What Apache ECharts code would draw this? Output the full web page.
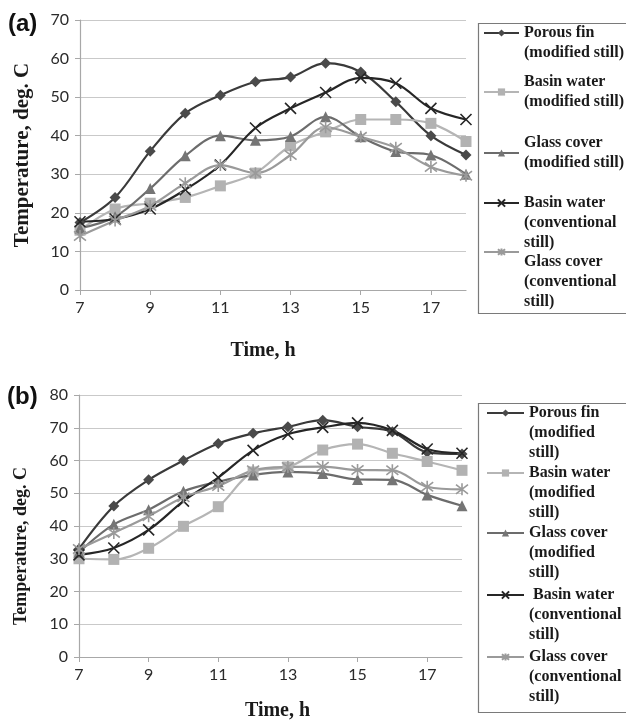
<!DOCTYPE html>
<html>
<head>
<meta charset="utf-8">
<script src="https://cdn.jsdelivr.net/npm/echarts@6/dist/echarts.min.js"></script>
<style>
  html, body { margin: 0; padding: 0; background: #fff; }
  #chart { width: 626px; height: 722px; }
</style>
</head>
<body>
<div id="chart"></div>
<script>
// time of day, h
var hours = [7, 8, 9, 10, 11, 12, 13, 14, 15, 16, 17, 18];

// (a)
var finA       = [17.5, 24, 36, 45.8, 50.5, 54, 55.2, 58.8, 56.5, 48.8, 40, 35];
var basinModA  = [15.5, 21, 22.5, 24, 27, 30.3, 37.4, 41, 44.2, 44.2, 43.2, 38.5];
var glassModA  = [16, 19, 26.3, 34.8, 40, 38.8, 39.8, 44.9, 39.7, 35.9, 35, 30];
var basinConvA = [17.7, 18.4, 21, 26, 32.4, 42, 47.1, 51.2, 55, 53.6, 47.1, 44.2];
var glassConvA = [14, 18, 21.8, 27.7, 32.4, 30.3, 35, 42.2, 39.7, 36.9, 31.9, 29.6];

// (b)
var finB       = [33, 46.1, 54.1, 60, 65.2, 68.3, 70.3, 72.3, 70.3, 68.8, 62.5, 62];
var basinModB  = [30, 29.8, 33.2, 39.9, 45.9, 56.5, 58, 63.2, 65, 62.2, 59.7, 57];
var glassModB  = [32, 40.5, 45, 50.6, 53.5, 55.6, 56.5, 56, 54.2, 54.1, 49.5, 46.2];
var basinConvB = [31.2, 33.3, 38.8, 47.6, 54.8, 63.1, 68, 70.1, 71.5, 69.2, 63.5, 62.2];
var glassConvB = [33, 37.9, 43, 48.8, 52.2, 57, 58, 58.1, 57.1, 57, 52, 51.2];

var names = ['Porous fin (modified still)', 'Basin water (modified still)', 'Glass cover (modified still)',
             'Basin water (conventional still)', 'Glass cover (conventional still)'];

// legend text as laid out in each panel (leading blank lines move the icon onto the first line)
var legendTextA = ['\nPorous fin\n(modified still)', 'Basin water\n(modified still)', 'Glass cover\n(modified still)',
                   '\n\nBasin water\n(conventional\nstill)', '\n\n\nGlass cover\n(conventional\nstill)'];
var legendTextB = ['\n\nPorous fin\n(modified\nstill)', '\n\nBasin water\n(modified\nstill)', '\n\nGlass cover\n(modified\nstill)',
                   '\n\n Basin water\n(conventional\nstill)', '\n\nGlass cover\n(conventional\nstill)'];
var legendTopA = [3, 72, 133, 153, 192];
var legendTopB = [363, 423, 483, 545, 607];

var xPath = 'path://M0,0L10,10M10,0L0,10';
var starPath = 'path://M0,0L10,10M10,0L0,10M5,-1.5L5,11.5';

var styles = [
	{ line: '#3a3a3a', mark: '#4a4a4a', symbol: 'diamond', size: 11 },
	{ line: '#b5b5b5', mark: '#b2b2b2', symbol: 'rect', size: 11 },
	{ line: '#6c6c6c', mark: '#757575', symbol: 'triangle', size: 11 },
	{ line: '#262626', mark: '#262626', symbol: xPath, size: 11, stroke: true },
	{ line: '#9a9a9a', mark: '#9a9a9a', symbol: starPath, size: 12, stroke: true }
];

var serif = '"Liberation Serif", "DejaVu Serif", serif';
var sans = 'Lato, "Open Sans", sans-serif';

function pairs(vals) {
	var out = [];
	for (var i = 0; i < hours.length; i++) out.push([hours[i], vals[i]]);
	return out;
}

function makeSeries(idx, vals, gridIdx) {
	var s = styles[idx];
	return {
		name: names[idx],
		type: 'line',
		xAxisIndex: gridIdx,
		yAxisIndex: gridIdx,
		smooth: 0.35,
		symbol: s.symbol,
		symbolSize: s.size,
		data: pairs(vals),
		lineStyle: { color: s.line, width: 2.2 },
		itemStyle: s.stroke ? { color: s.mark, borderColor: s.mark, borderWidth: 1.6 }
		                    : { color: s.mark, borderWidth: 0 },
		emphasis: { disabled: true }
	};
}

function makeLegends(texts, tops, left, width) {
	var out = [];
	for (var i = 0; i < names.length; i++) {
		(function (txt) {
			out.push({
				data: [names[i]],
				left: left,
				top: tops[i],
				padding: 0,
				itemWidth: width,
				itemHeight: 9,
				selectedMode: false,
				formatter: function () { return txt; },
				textStyle: { fontFamily: serif, fontWeight: 'bold', fontSize: 16, lineHeight: 20, color: '#1a1a1a' }
			});
		})(texts[i]);
	}
	return out;
}

function xAxisCfg(gridIdx, gap, pad) {
	return {
		type: 'value', gridIndex: gridIdx, min: 7, max: 18, interval: 2,
		name: 'Time, h', nameLocation: 'middle', nameGap: gap,
		nameTextStyle: { fontFamily: serif, fontWeight: 'bold', fontSize: 20, color: '#1a1a1a', padding: pad },
		axisLine: { lineStyle: { color: '#a8a8a8', width: 1.2 } },
		axisTick: { show: true, length: 5, lineStyle: { color: '#a8a8a8' } },
		axisLabel: { showMaxLabel: false, margin: 10, fontFamily: sans, fontSize: 16, color: '#2a2a2a' },
		splitLine: { show: false }
	};
}

function yAxisCfg(gridIdx, max, gap, size, pad) {
	return {
		type: 'value', gridIndex: gridIdx, min: 0, max: max, interval: 10,
		name: 'Temperature, deg. C', nameLocation: 'middle', nameGap: gap,
		nameTextStyle: { fontFamily: serif, fontWeight: 'bold', fontSize: size, color: '#1a1a1a', padding: pad },
		axisLine: { show: true, lineStyle: { color: '#a8a8a8', width: 1.2 } },
		axisTick: { show: true, length: 5, lineStyle: { color: '#a8a8a8' } },
		axisLabel: { margin: 11, fontFamily: sans, fontSize: 16, color: '#2a2a2a' },
		splitLine: { lineStyle: { color: '#c9c9c9', width: 1 } }
	};
}

var myChart = echarts.init(document.getElementById('chart'), null, { renderer: 'canvas' });

var option = {
	backgroundColor: '#fff',
	animation: false,
	title: [
		{ text: '(a)', left: 8, top: 12, padding: 0, textStyle: { fontFamily: '"Liberation Sans", Arial, sans-serif', fontWeight: 'bold', fontSize: 24, color: '#111' } },
		{ text: '(b)', left: 7, top: 385, padding: 0, textStyle: { fontFamily: '"Liberation Sans", Arial, sans-serif', fontWeight: 'bold', fontSize: 24, color: '#111' } }
	],
	grid: [
		{ left: 80, top: 20, width: 386, height: 270 },
		{ left: 79, top: 395, width: 383, height: 263 }
	],
	xAxis: [ xAxisCfg(0, 51, [0, 20, 0, 0]), xAxisCfg(1, 44, [0, 0, 0, 14]) ],
	yAxis: [ yAxisCfg(0, 70, 47, 21, [0, 0, 0, 0]), yAxisCfg(1, 80, 49, 18, [0, 40, 0, 0]) ],
	legend: makeLegends(legendTextA, legendTopA, 483, 35).concat(makeLegends(legendTextB, legendTopB, 486, 37)),
	graphic: [
		{ type: 'rect', shape: { x: 478.5, y: 23.5, width: 170, height: 290 }, style: { fill: 'none', stroke: '#7a7a7a', lineWidth: 1.2 }, silent: true },
		{ type: 'rect', shape: { x: 478.5, y: 403.5, width: 170, height: 309 }, style: { fill: 'none', stroke: '#7a7a7a', lineWidth: 1.2 }, silent: true }
	],
	series: [
		makeSeries(0, finA, 0), makeSeries(1, basinModA, 0), makeSeries(2, glassModA, 0),
		makeSeries(3, basinConvA, 0), makeSeries(4, glassConvA, 0),
		makeSeries(0, finB, 1), makeSeries(1, basinModB, 1), makeSeries(2, glassModB, 1),
		makeSeries(3, basinConvB, 1), makeSeries(4, glassConvB, 1)
	]
};

myChart.setOption(option);
</script>
</body>
</html>
